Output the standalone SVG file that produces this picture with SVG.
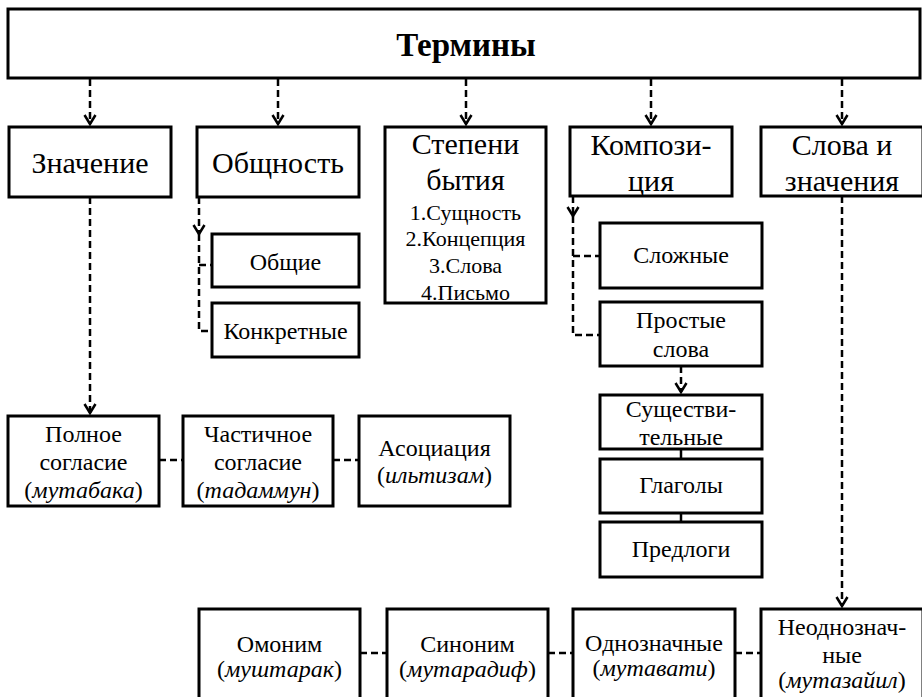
<svg xmlns="http://www.w3.org/2000/svg" width="922" height="697" viewBox="0 0 922 697">
<style>
.box{fill:#fff;stroke:#000;stroke-width:3}
.t{font-family:"Liberation Serif","Times New Roman",serif;fill:#000;text-anchor:middle}
.big{font-size:30px}
.mid{font-size:24px}
.sm{font-size:22px}
.it{font-style:italic}
.title{font-size:33px;font-weight:bold}
.dash{fill:none;stroke:#000;stroke-width:2.5;stroke-dasharray:7,4}
.solid{fill:none;stroke:#000;stroke-width:2.5}
</style>
<defs>
<marker id="arr" markerUnits="userSpaceOnUse" markerWidth="14" markerHeight="14" refX="0" refY="0" orient="auto" overflow="visible">
<path d="M-9,-5.5 L0,0 L-9,5.5" fill="none" stroke="#000" stroke-width="2.5"/>
</marker>
</defs>
<rect width="922" height="697" fill="#fff"/>
<g id="connectors">
<path class="dash" d="M90,79 V124" marker-end="url(#arr)"/>
<path class="dash" d="M278,79 V124" marker-end="url(#arr)"/>
<path class="dash" d="M466,79 V124" marker-end="url(#arr)"/>
<path class="dash" d="M651,79 V124" marker-end="url(#arr)"/>
<path class="dash" d="M842,79 V124" marker-end="url(#arr)"/>
<path class="dash" d="M90,197 V413" marker-end="url(#arr)"/>
<path class="dash" d="M199,197 V234" marker-end="url(#arr)"/>
<path class="dash" d="M199,234 V331 H212"/>
<path class="dash" d="M199,265 H212"/>
<path class="dash" d="M573,196 V216" marker-end="url(#arr)"/>
<path class="dash" d="M573,216 V335 H600"/>
<path class="dash" d="M573,256 H600"/>
<path class="dash" d="M681,366 V392" marker-end="url(#arr)"/>
<path class="solid" d="M681,449 V459"/>
<path class="solid" d="M681,513 V522"/>
<path class="dash" d="M842,196 V606" marker-end="url(#arr)"/>
<path class="dash" d="M159,460 H183"/>
<path class="dash" d="M333,460 H359"/>
<path class="dash" d="M360,653 H387"/>
<path class="dash" d="M548,653 H573"/>
<path class="dash" d="M735,653 H761"/>
</g>
<g id="terms"><rect class="box" x="8" y="9" width="912" height="69"/><text class="t title" x="466" y="56">Термины</text></g>
<g id="znachenie"><rect class="box" x="9" y="127" width="162" height="70"/><text class="t big" x="90" y="173">Значение</text></g>
<g id="obshnost"><rect class="box" x="197" y="127" width="162" height="70"/><text class="t big" x="278" y="173">Общность</text></g>
<g id="stepeni"><rect class="box" x="385" y="127" width="161" height="176"/>
<text class="t big" x="465.5" y="154">Степени</text>
<text class="t big" x="465.5" y="190">бытия</text>
<text class="t sm" x="465.5" y="220">1.Сущность</text>
<text class="t sm" x="465.5" y="246">2.Концепция</text>
<text class="t sm" x="465.5" y="273">3.Слова</text>
<text class="t sm" x="465.5" y="300">4.Письмо</text></g>
<g id="kompoziciya"><rect class="box" x="570" y="127" width="162" height="69"/>
<text class="t big" x="651" y="155">Компози-</text>
<text class="t big" x="651" y="191">ция</text></g>
<g id="slova-znacheniya"><rect class="box" x="761" y="127" width="162" height="69"/>
<text class="t big" x="842" y="155">Слова и</text>
<text class="t big" x="842" y="191">значения</text></g>
<g id="obshie"><rect class="box" x="212" y="234" width="147" height="53"/><text class="t mid" x="285.5" y="270">Общие</text></g>
<g id="konkretnye"><rect class="box" x="212" y="303" width="147" height="54"/><text class="t mid" x="285.5" y="339">Конкретные</text></g>
<g id="slozhnye"><rect class="box" x="600" y="223" width="162" height="65"/><text class="t mid" x="681" y="263">Сложные</text></g>
<g id="prostye"><rect class="box" x="600" y="302" width="162" height="64"/>
<text class="t mid" x="681" y="328">Простые</text>
<text class="t mid" x="681" y="357">слова</text></g>
<g id="sushestvitelnye"><rect class="box" x="600" y="395" width="162" height="54"/>
<text class="t mid" x="681" y="417">Существи-</text>
<text class="t mid" x="681" y="445">тельные</text></g>
<g id="glagoly"><rect class="box" x="600" y="459" width="162" height="54"/><text class="t mid" x="681" y="493">Глаголы</text></g>
<g id="predlogi"><rect class="box" x="600" y="522" width="162" height="55"/><text class="t mid" x="681" y="557">Предлоги</text></g>
<g id="polnoe"><rect class="box" x="8" y="416" width="151" height="90"/>
<text class="t mid" x="83.5" y="442">Полное</text>
<text class="t mid" x="83.5" y="470">согласие</text>
<text class="t mid" x="83.5" y="498">(<tspan class="it">мутабака</tspan>)</text></g>
<g id="chastichnoe"><rect class="box" x="183" y="416" width="150" height="90"/>
<text class="t mid" x="258" y="442">Частичное</text>
<text class="t mid" x="258" y="470">согласие</text>
<text class="t mid" x="258" y="498">(<tspan class="it">тадаммун</tspan>)</text></g>
<g id="asociaciya"><rect class="box" x="359" y="416" width="151" height="90"/>
<text class="t mid" x="434.5" y="456">Асоциация</text>
<text class="t mid" x="434.5" y="483">(<tspan class="it">ильтизам</tspan>)</text></g>
<g id="omonim"><rect class="box" x="199" y="609" width="161" height="100"/>
<text class="t mid" x="279.5" y="652">Омоним</text>
<text class="t mid" x="279.5" y="677">(<tspan class="it">муштарак</tspan>)</text></g>
<g id="sinonim"><rect class="box" x="387" y="609" width="161" height="100"/>
<text class="t mid" x="467.5" y="652">Синоним</text>
<text class="t mid" x="467.5" y="677">(<tspan class="it">мутарадиф</tspan>)</text></g>
<g id="odnoznachnye"><rect class="box" x="573" y="609" width="162" height="100"/>
<text class="t mid" x="654" y="651">Однозначные</text>
<text class="t mid" x="654" y="676">(<tspan class="it">мутавати</tspan>)</text></g>
<g id="neodnoznachnye"><rect class="box" x="761" y="609" width="162" height="100"/>
<text class="t mid" x="842" y="635">Неоднознач-</text>
<text class="t mid" x="842" y="663">ные</text>
<text class="t mid" x="842" y="688">(<tspan class="it">мутазайил</tspan>)</text></g>
</svg>
